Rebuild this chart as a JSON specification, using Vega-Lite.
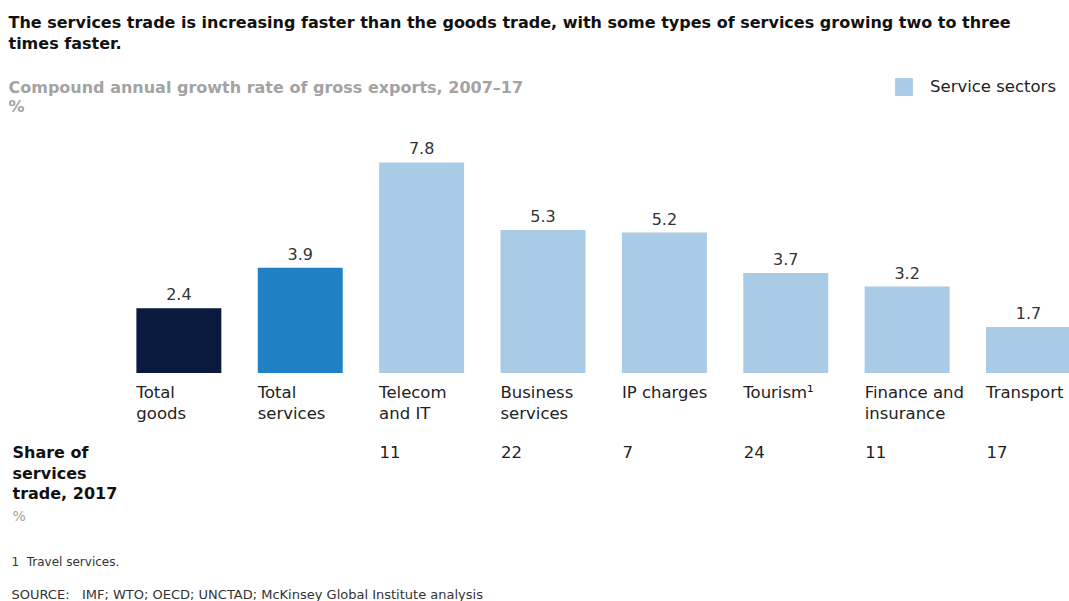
{
  "$schema": "https://vega.github.io/schema/vega-lite/v6.json",
  "padding": {"left": 8, "top": 15, "right": 0, "bottom": 0},
  "background": "white",
  "config": {
    "view": {"stroke": null},
    "font": "DejaVu Sans",
    "concat": {"spacing": 22}
  },
  "title": {
    "text": ["The services trade is increasing faster than the goods trade, with some types of services growing two to three", "times faster."],
    "subtitle": ["Compound annual growth rate of gross exports, 2007–17", "%"],
    "anchor": "start",
    "dx": -3,
    "font": "DejaVu Sans",
    "fontSize": 16,
    "fontWeight": "bold",
    "color": "#111111",
    "lineHeight": 21,
    "subtitleFont": "DejaVu Sans",
    "subtitleFontSize": 16,
    "subtitleFontWeight": "bold",
    "subtitleColor": "#a3a3a3",
    "subtitleLineHeight": 19,
    "subtitlePadding": 28,
    "offset": -37
  },
  "vconcat": [
    {
      "width": 1056,
      "height": 216,
      "data": {
        "values": [
          {"sector": "Total\ngoods", "group": "Total goods", "growth": 2.4},
          {"sector": "Total\nservices", "group": "Total services", "growth": 3.9},
          {"sector": "Telecom\nand IT", "group": "Service sectors", "growth": 7.8},
          {"sector": "Business\nservices", "group": "Service sectors", "growth": 5.3},
          {"sector": "IP charges", "group": "Service sectors", "growth": 5.2},
          {"sector": "Tourism¹", "group": "Service sectors", "growth": 3.7},
          {"sector": "Finance and\ninsurance", "group": "Service sectors", "growth": 3.2},
          {"sector": "Transport", "group": "Service sectors", "growth": 1.7}
        ]
      },
      "encoding": {
        "x": {
          "field": "sector",
          "type": "nominal",
          "sort": null,
          "scale": {
            "type": "band",
            "domain": ["share", "Total\ngoods", "Total\nservices", "Telecom\nand IT", "Business\nservices", "IP charges", "Tourism¹", "Finance and\ninsurance", "Transport"],
            "paddingInner": 0.3,
            "paddingOuter": 0
          },
          "axis": {
            "title": null,
            "domain": false,
            "ticks": false,
            "labelAngle": 0,
            "labelAlign": "left",
            "labelBaseline": "top",
            "labelOffset": -42.5,
            "labelPadding": 11,
            "labelFont": "DejaVu Sans",
            "labelFontSize": 16.5,
            "labelColor": "#222222",
            "labelLineHeight": 21,
            "labelLimit": 300,
            "labelExpr": "datum.value == 'share' ? '' : split(datum.value, '\\n')"
          }
        }
      },
      "layer": [
        {
          "mark": {"type": "bar"},
          "encoding": {
            "y": {"field": "growth", "type": "quantitative", "scale": {"domain": [0, 8]}, "axis": null},
            "color": {
              "field": "group",
              "type": "nominal",
              "scale": {"domain": ["Service sectors", "Total goods", "Total services"], "range": ["#a9cbe6", "#0a1a3e", "#1f80c4"]},
              "legend": {
                "values": ["Service sectors"],
                "title": null,
                "orient": "none",
                "legendX": 880,
                "legendY": -79,
                "padding": 0,
                "symbolType": "square",
                "symbolSize": 320,
                "symbolStrokeWidth": 0,
                "labelFont": "DejaVu Sans",
                "labelFontSize": 16.5,
                "labelColor": "#222222",
                "labelOffset": 17
              }
            }
          }
        },
        {
          "mark": {"type": "text", "baseline": "alphabetic", "dy": -8, "fontSize": 16, "color": "#333333"},
          "encoding": {
            "y": {"field": "growth", "type": "quantitative"},
            "text": {"field": "growth", "type": "quantitative", "format": ".1f"}
          }
        }
      ]
    },
    {
      "width": 1056,
      "height": 2,
      "data": {
        "values": [
          {"sector": "share", "label": "Share of\nservices\ntrade, 2017", "unit": "%"},
          {"sector": "Telecom\nand IT", "share": 11},
          {"sector": "Business\nservices", "share": 22},
          {"sector": "IP charges", "share": 7},
          {"sector": "Tourism¹", "share": 24},
          {"sector": "Finance and\ninsurance", "share": 11},
          {"sector": "Transport", "share": 17}
        ]
      },
      "encoding": {
        "x": {
          "field": "sector",
          "type": "nominal",
          "sort": null,
          "scale": {
            "type": "band",
            "domain": ["share", "Total\ngoods", "Total\nservices", "Telecom\nand IT", "Business\nservices", "IP charges", "Tourism¹", "Finance and\ninsurance", "Transport"],
            "paddingInner": 0.3,
            "paddingOuter": 0
          },
          "axis": null
        }
      },
      "layer": [
        {
          "transform": [{"filter": "isValid(datum.share)"}],
          "mark": {"type": "text", "align": "left", "baseline": "top", "dx": -42, "fontSize": 16.5, "color": "#222222"},
          "encoding": {"text": {"field": "share", "type": "quantitative"}}
        },
        {
          "transform": [{"filter": "isValid(datum.label)"}],
          "mark": {"type": "text", "align": "left", "baseline": "top", "dx": -45, "fontSize": 16, "fontWeight": "bold", "color": "#111111", "lineBreak": "\n", "lineHeight": 20.5},
          "encoding": {"text": {"field": "label", "type": "nominal"}}
        },
        {
          "transform": [{"filter": "isValid(datum.unit)"}],
          "mark": {"type": "text", "align": "left", "baseline": "top", "dx": -45, "dy": 65, "fontSize": 14, "color": "#a3a3a3"},
          "encoding": {"text": {"field": "unit", "type": "nominal"}}
        }
      ],
      "title": {
        "text": "1\u00a0\u00a0Travel services.",
        "subtitle": "SOURCE:\u00a0\u00a0\u00a0IMF; WTO; OECD; UNCTAD; McKinsey Global Institute analysis",
        "orient": "bottom",
        "anchor": "start",
        "dx": -1,
        "font": "DejaVu Sans",
        "fontSize": 12,
        "fontWeight": "normal",
        "color": "#333333",
        "subtitleFont": "DejaVu Sans",
        "subtitleFontSize": 13,
        "subtitleColor": "#333333",
        "subtitlePadding": 20,
        "offset": 33
      }
    }
  ]
}
